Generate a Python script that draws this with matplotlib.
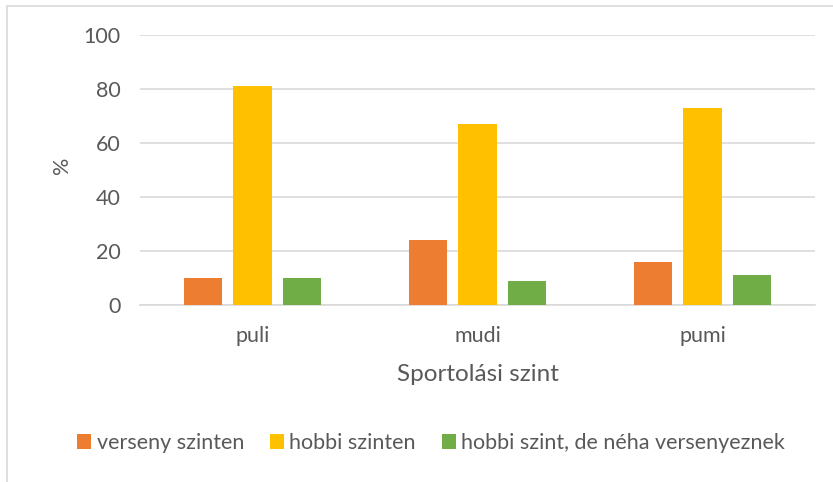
import numpy as np
import matplotlib
matplotlib.use("Agg")
import matplotlib.pyplot as plt
from matplotlib.patches import Rectangle

plt.rcParams['font.family'] = ['Lato', 'DejaVu Sans']

# adatok
categories = ["puli", "mudi", "pumi"]
series_names = ["verseny szinten", "hobbi szinten", "hobbi szint, de néha versenyeznek"]
verseny = [10, 24, 16]
hobbi = [81, 67, 73]
hobbi_neha = [10, 9, 11]
y_ticks = [0, 20, 40, 60, 80, 100]

colors = ["#ED7D31", "#FFC000", "#70AD47"]
txt = "#595959"
grid = "#D9D9D9"

W, H = 833, 482
fig = plt.figure(figsize=(W / 100, H / 100), dpi=100)
ax = fig.add_axes([140 / W, 1 - 305 / H, 675 / W, 270 / H])

# keret (csak bal és felső él látszik)
fig.patches.append(Rectangle((7 / W, -0.1), 1.2, 1 - 6 / H + 0.1, transform=fig.transFigure,
                             fill=False, edgecolor=grid, linewidth=1.2))

x = np.arange(len(categories))
width = 0.173
step = 0.22
handles = []
for i, (vals, name) in enumerate(zip([verseny, hobbi, hobbi_neha], series_names)):
    b = ax.bar(x + (i - 1) * step, vals, width, color=colors[i], label=name, zorder=3)
    handles.append(b)

ax.set_xlim(-0.5, 2.5)
ax.set_ylim(0, 100)
ax.set_yticks(y_ticks)
ax.yaxis.grid(True, color=grid, linewidth=1.2, zorder=0)
ax.set_xticks(x)
ax.set_xticklabels(categories)
for s in ["top", "right", "left"]:
    ax.spines[s].set_visible(False)
ax.spines["bottom"].set_color(grid)
ax.spines["bottom"].set_linewidth(1.2)
ax.tick_params(axis="both", length=0, labelsize=15.5, colors=txt)
ax.tick_params(axis="y", pad=14)
ax.tick_params(axis="x", pad=15)

ax.set_xlabel("Sportolási szint", fontsize=17.5, color=txt, labelpad=13)
fig.text(62 / W, 1 - 165 / H, "%", rotation=90, fontsize=15.5, color=txt, ha="center", va="center")

fig.legend(handles=handles, labels=series_names, loc="center", ncol=3,
           bbox_to_anchor=(431 / W, 1 - 443 / H), frameon=False, fontsize=15.5,
           handlelength=0.65, handleheight=0.65, handletextpad=0.25, columnspacing=1.2,
           labelcolor=txt)

fig.savefig("out.png", dpi=100, facecolor="white")
